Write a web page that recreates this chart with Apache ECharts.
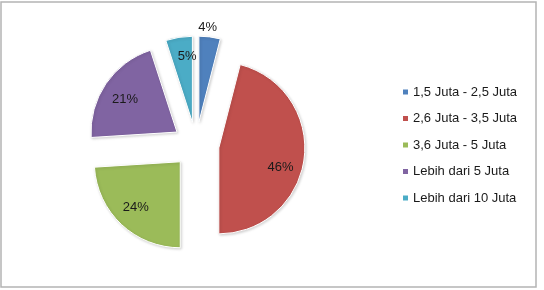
<!DOCTYPE html>
<html><head><meta charset="utf-8">
<script src="https://cdn.jsdelivr.net/npm/echarts@6/dist/echarts.min.js"></script>
<style>html,body{margin:0;padding:0;background:#fff}#c{width:544px;height:290px}</style>
</head><body><div id="c"></div>
<script>
const categories = ['1,5 Juta - 2,5 Juta','2,6 Juta - 3,5 Juta','3,6 Juta - 5 Juta','Lebih dari 5 Juta','Lebih dari 10 Juta'];
const values = [4, 46, 24, 21, 5];
const colors = ['#4F81BD','#C0504D','#9BBB59','#8064A2','#4BACC6'];
const labelShiftX = [3, 16, -13, -14, 2];
const labelShiftY = [-49, 14, 12, -7, -20];

const chart = echarts.init(document.getElementById('c'), null, {renderer:'canvas'});
chart.setOption({
  animation:false,
  graphic:[{type:'rect',shape:{x:1,y:2,width:535,height:285},style:{fill:'none',stroke:'#b4b4b4',lineWidth:1.5},silent:true}],
  legend:{
    orient:'vertical', left:401, top:84, padding:0, icon:'rect', itemWidth:7, itemHeight:7, itemGap:10.5,
    selectedMode:false,
    textStyle:{fontFamily:'Liberation Sans', fontSize:13, color:'#1a1a1a', lineHeight:16, padding:[0,0,0,-1]},
    data: categories
  },
  series:[{
    type:'pie', center:[196,145], radius:86, startAngle:90, clockwise:true,
    selectedMode:'multiple', selectedOffset:23,
    avoidLabelOverlap:false,
    itemStyle:{borderColor:'#fff', borderWidth:1, shadowColor:'rgba(0,0,0,0.18)', shadowBlur:3, shadowOffsetX:1, shadowOffsetY:1},
    label:{show:true, position:'inside', formatter:'{c}%', fontFamily:'Liberation Sans', fontSize:13, color:'#1a1a1a'},
    labelLine:{show:false},
    labelLayout:function(p){return {dx:labelShiftX[p.dataIndex], dy:labelShiftY[p.dataIndex]};},
    emphasis:{disabled:true},
    data: categories.map((n,i)=>({name:n, value:values[i], selected:true, itemStyle:{color:colors[i]}}))
  }]
});
</script></body></html>
